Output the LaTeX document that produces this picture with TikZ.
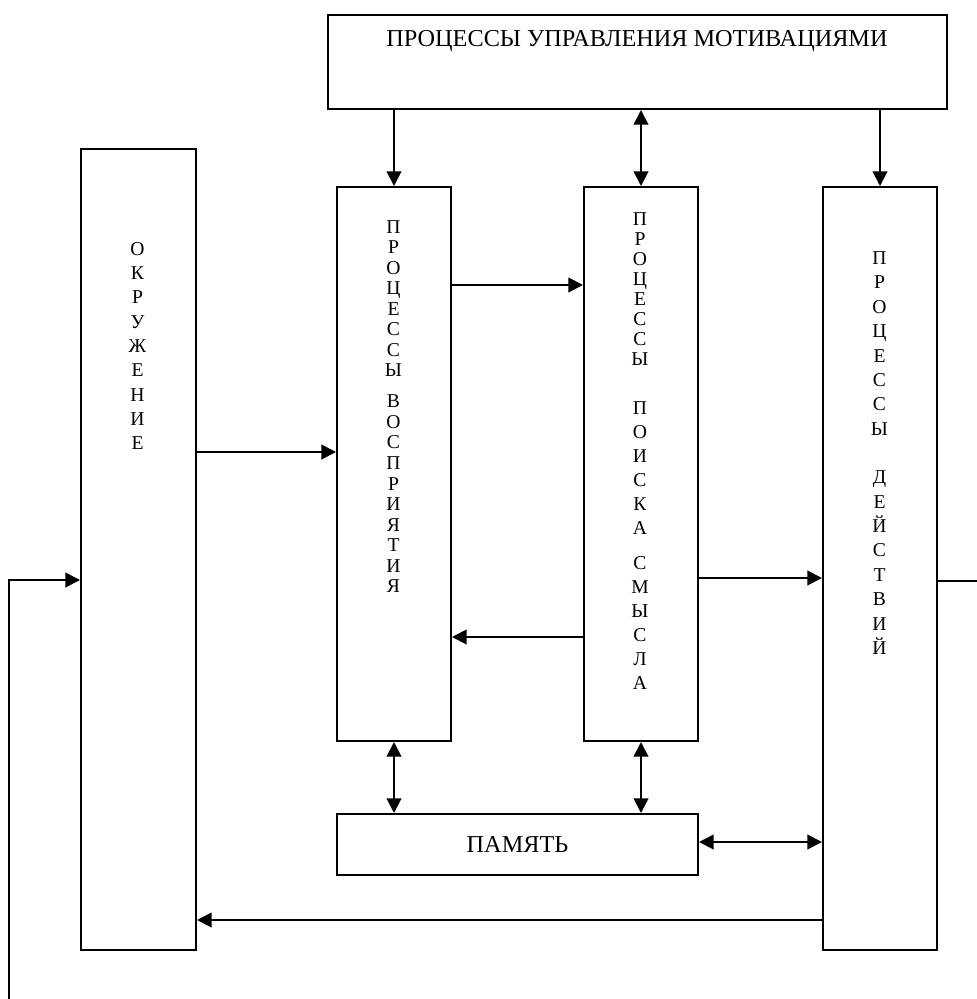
\documentclass[tikz,border=0pt]{standalone}
\usepackage{fontspec}
\setmainfont{Liberation Serif}
\usetikzlibrary{arrows.meta}
\begin{document}
\begin{tikzpicture}[x=0.75pt,y=-0.75pt,
  box/.style={draw, line width=1.5pt, inner sep=0pt, anchor=north west},
  boxsz/.style 2 args={minimum width=#1*0.75pt, minimum height=#2*0.75pt},
  arr/.style={line width=1.5pt, -{Triangle[length=11pt,width=11pt]}},
  darr/.style={line width=1.5pt, {Triangle[length=11pt,width=11pt]}-{Triangle[length=11pt,width=11pt]}},
  plain/.style={line width=1.5pt},
  htext/.style={font=\fontsize{18.2pt}{22pt}\selectfont, inner sep=0pt},
  vtext/.style={font=\fontsize{14.7pt}{#1}\selectfont, align=center, inner sep=0pt},
]
\useasboundingbox (0,0) rectangle (977,999);

% boxes
\node[box, boxsz={619}{94}] (mot) at (327,14) {};
\node[htext] (motT) at (637,41) {ПРОЦЕССЫ УПРАВЛЕНИЯ МОТИВАЦИЯМИ};
\node[box, boxsz={115}{801}] (env) at (80,148) {};
\node[box, boxsz={114}{554}] (perc) at (336,186) {};
\node[box, boxsz={114}{554}] (sense) at (583,186) {};
\node[box, boxsz={114}{763}] (act) at (822,186) {};
\node[box, boxsz={361}{61}, htext] (mem) at (336,813) {ПАМЯТЬ};

% vertical labels
\node[vtext=18.2pt] (envT) at (137.5,346) {О\\К\\Р\\У\\Ж\\Е\\Н\\И\\Е};
\node[vtext=15.4pt] (percT) at (393.5,406.5) {П\\Р\\О\\Ц\\Е\\С\\С\\Ы\\[7.9pt]В\\О\\С\\П\\Р\\И\\Я\\Т\\И\\Я};
\node[vtext=15pt] (senseT) at (640,451) {П\\Р\\О\\Ц\\Е\\С\\С\\Ы\\[21.75pt]П\\[3pt]О\\[3pt]И\\[3pt]С\\[3pt]К\\[3pt]А\\[11.25pt]С\\[3pt]М\\[3pt]Ы\\[3pt]С\\[3pt]Л\\[3pt]А};
\node[vtext=18.3pt] (actT) at (879.5,453) {П\\Р\\О\\Ц\\Е\\С\\С\\Ы\\[18pt]Д\\Е\\Й\\С\\Т\\В\\И\\Й};

% helper coordinates (levels)
\coordinate (yA) at (0,452);
\coordinate (yB) at (0,285);
\coordinate (yC) at (0,637);
\coordinate (yD) at (0,578);
\coordinate (yE) at (0,920);
\coordinate (yM) at (0,842);
\coordinate (outR) at (977,581);
\coordinate (inL) at (9,999);
\coordinate (yF) at (0,580);

% connectors
\draw[arr] (perc.north |- mot.south) -- (perc.north);
\draw[darr] (sense.north |- mot.south) -- (sense.north);
\draw[arr] (act.north |- mot.south) -- (act.north);
\draw[arr] (env.east |- yA) -- (perc.west |- yA);
\draw[arr] (perc.east |- yB) -- (sense.west |- yB);
\draw[arr] (sense.west |- yC) -- (perc.east |- yC);
\draw[arr] (sense.east |- yD) -- (act.west |- yD);
\draw[darr] (perc.south) -- (perc.south |- mem.north);
\draw[darr] (sense.south) -- (sense.south |- mem.north);
\draw[darr] (mem.east |- yM) -- (act.west |- yM);
\draw[arr] (act.west |- yE) -- (env.east |- yE);
\draw[plain] (act.east |- outR) -- (outR);
\draw[arr] (inL) |- (env.west |- yF);
\end{tikzpicture}
\end{document}
